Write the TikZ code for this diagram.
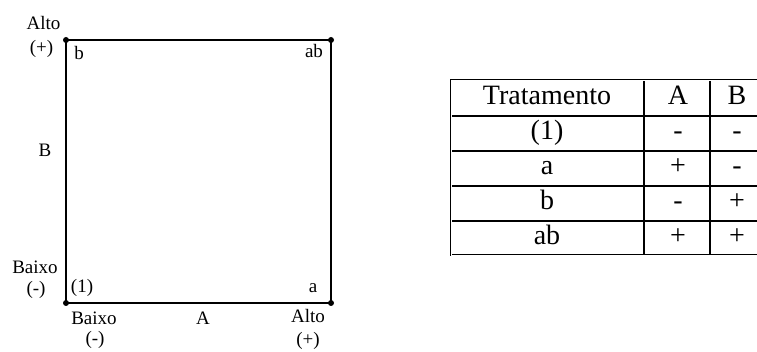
\documentclass[tikz,border=0pt]{standalone}
\usepackage{fontspec}
\setmainfont{Liberation Serif}
\begin{document}
\begin{tikzpicture}[x=1pt,y=-1pt,
  sq/.style={line width=1.4pt},
  dotm/.style={circle,fill=black,inner sep=0pt,minimum size=6pt},
  lab/.style={inner sep=0pt,anchor=base,font=\fontsize{19}{21}\selectfont},
  tlab/.style={inner sep=0pt,anchor=base,font=\fontsize{28}{30}\selectfont},
  grid/.style={line width=1.2pt},
  outer/.style={double,double distance=0.8pt,line width=0.9pt}]
\useasboundingbox (0,0) rectangle (757,352);
% square
\coordinate (tl) at (66,40);
\coordinate (tr) at (331,40);
\coordinate (bl) at (66,303);
\coordinate (br) at (331,303);
\draw[sq] (tl) -- (tr) -- (br) -- (bl) -- cycle;
\foreach \c in {tl,tr,bl,br} \node[dotm] (d\c) at (\c) {};
% square labels
\node[lab] (alto1) at (43.5,30) {Alto};
\node[lab] (plus1) at (41.5,54) {(+)};
\node[lab] (lb) at (79,60) {b};
\node[lab] (lab) at (314,58) {ab};
\node[lab] (lB) at (45,157) {B};
\node[lab] (baixo1) at (35,274) {Baixo};
\node[lab] (minus1) at (36,295) {(-)};
\node[lab] (l1) at (82,293) {(1)};
\node[lab] (la) at (313,293) {a};
\node[lab] (baixo2) at (94,324) {Baixo};
\node[lab] (minus2) at (95,344) {(-)};
\node[lab] (lA) at (203,325) {A};
\node[lab] (alto2) at (308,323) {Alto};
\node[lab] (plus2) at (308,345) {(+)};
% table
\draw[grid] (644,80) -- (644,255);
\draw[grid] (710,80) -- (710,255);
\foreach \yy in {116,151,186,221} \draw[grid] (451,\yy) -- (757,\yy);
\draw[outer] (760,80) -- (451,80) -- (451,255) -- (760,255);
\node[tlab] (h1) at (547,105) {Tratamento};
\node[tlab] (h2) at (678,105) {A};
\node[tlab] (h3) at (737,105) {B};
\node[tlab] (r11) at (547,140) {(1)};
\node[tlab] (r12) at (678,140) {-};
\node[tlab] (r13) at (737,140) {-};
\node[tlab] (r21) at (547,175) {a};
\node[tlab] (r22) at (678,175) {+};
\node[tlab] (r23) at (737,175) {-};
\node[tlab] (r31) at (547,210) {b};
\node[tlab] (r32) at (678,210) {-};
\node[tlab] (r33) at (737,210) {+};
\node[tlab] (r41) at (547,245) {ab};
\node[tlab] (r42) at (678,245) {+};
\node[tlab] (r43) at (737,245) {+};
\end{tikzpicture}
\end{document}
